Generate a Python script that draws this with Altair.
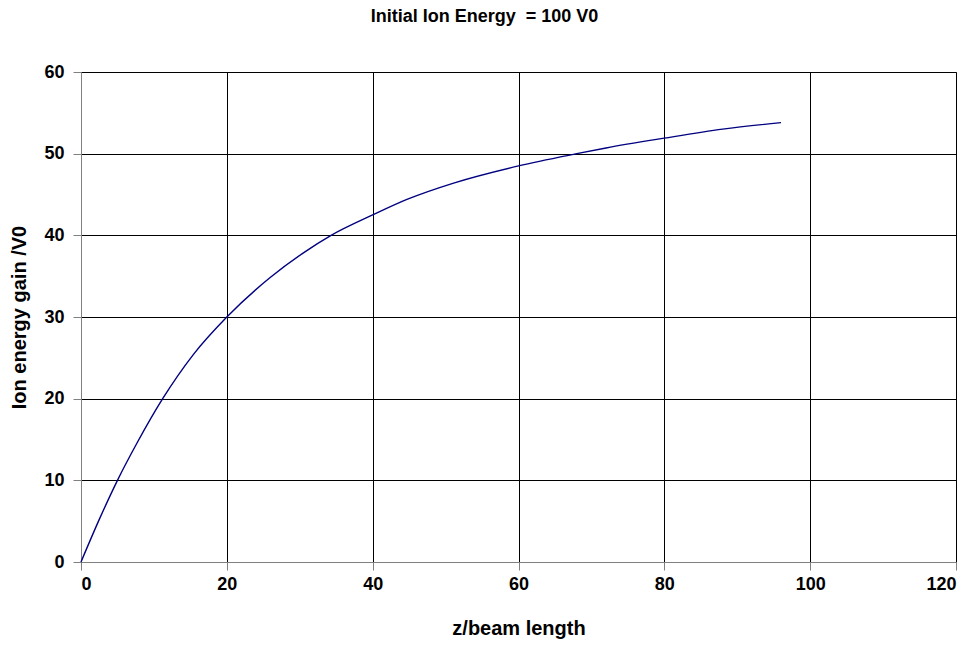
import altair as alt
import pandas as pd

z_values = [0, 2.6, 5.0, 7.7, 11.2, 15.4, 20, 25.9, 30.4, 34.3, 40, 44.7, 51.1, 60, 68, 72, 80, 88, 96]
gain_values = [0, 5.4, 10, 14.6, 20, 25.4, 30, 34.8, 37.8, 40, 42.5, 44.4, 46.4, 48.5, 50, 50.7, 51.9, 53.0, 53.8]
x_ticks = [0, 20, 40, 60, 80, 100, 120]
y_ticks = [0, 10, 20, 30, 40, 50, 60]

df = pd.DataFrame({"z": z_values, "gain": gain_values})

FONT = "Liberation Sans"

chart = alt.Chart(df).mark_line(color="#000080", strokeWidth=1.4, interpolate="monotone").encode(
    x=alt.X("z:Q", scale=alt.Scale(domain=[0, 120], nice=False),
            axis=alt.Axis(values=x_ticks, title="z/beam length", labelPadding=5, titlePadding=25)),
    y=alt.Y("gain:Q", scale=alt.Scale(domain=[0, 60], nice=False),
            axis=alt.Axis(values=y_ticks, title="Ion energy gain /V0", labelPadding=9, titlePadding=14)),
).properties(
    width=875,
    height=490,
    title=alt.TitleParams("Initial Ion Energy \u00a0= 100 V0", fontSize=18, fontWeight="bold", font=FONT,
                          color="black", anchor="middle", dx=-34, offset=37),
    autosize=alt.AutoSizeParams(type="none"),
    padding={"left": 81, "top": 72, "right": 23, "bottom": 83},
    background="white",
).configure_axis(
    labelFont=FONT, labelFontSize=18, labelFontWeight="bold", labelColor="black",
    titleFont=FONT, titleFontSize=20, titleFontWeight="bold", titleColor="black",
    gridColor="black", gridOpacity=1, gridWidth=1,
    domainColor="#808080", tickColor="#808080", tickSize=8,
).configure_view(
    stroke="#808080", strokeWidth=1
)

chart.save("out.html", embed_options={"renderer": "svg", "actions": False})
